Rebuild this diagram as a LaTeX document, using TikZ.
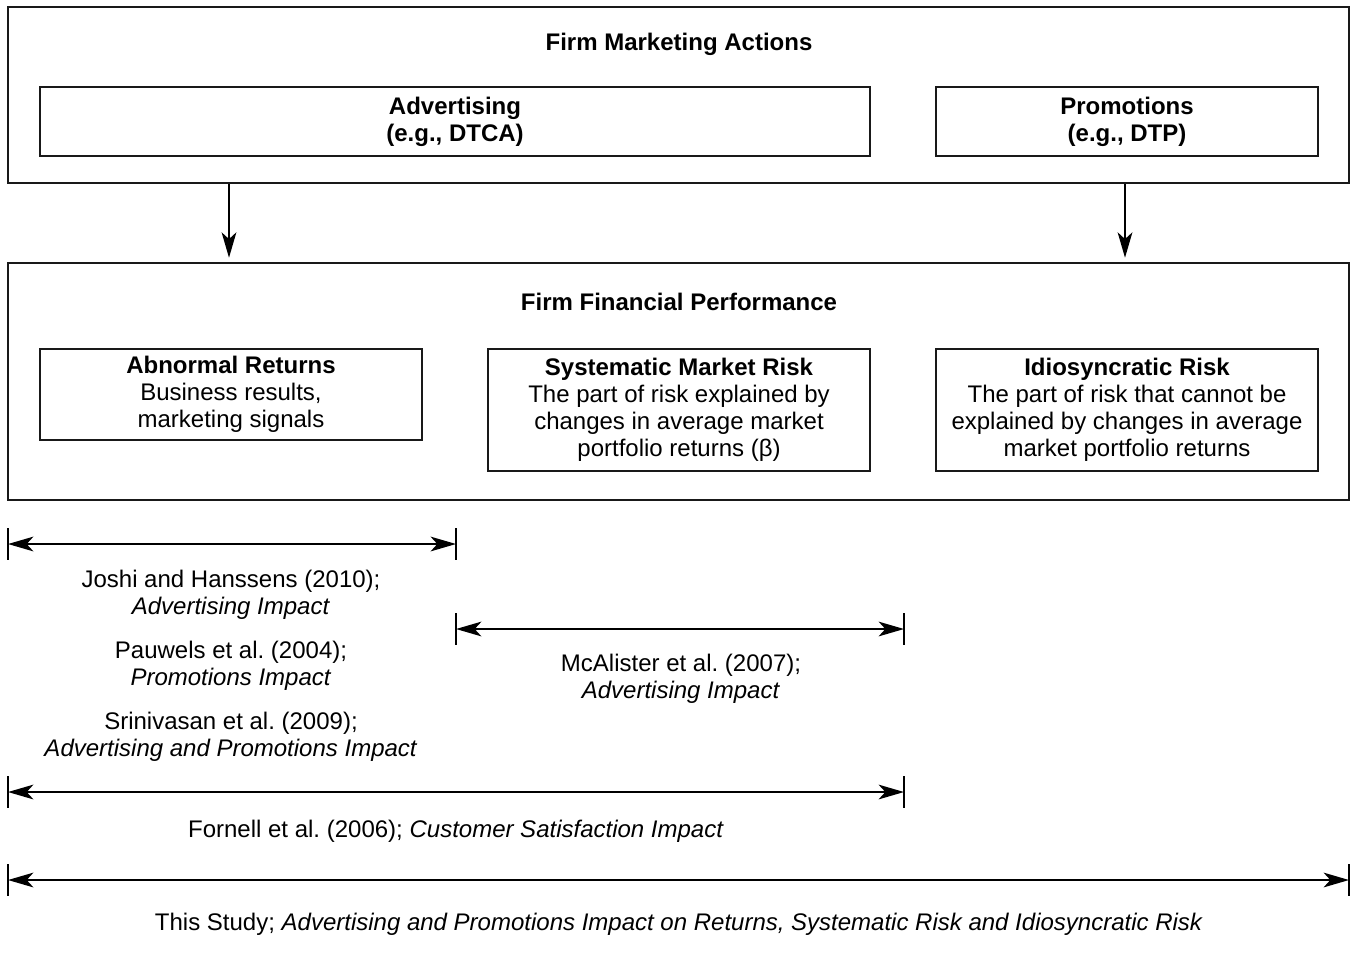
\documentclass[tikz,border=0pt]{standalone}
\usepackage{fontspec}
\setmainfont{Liberation Sans}
\usetikzlibrary{arrows.meta}
\frenchspacing
\tikzset{
  px/.style={x=0.75pt,y=-0.75pt},
  frame/.style={draw=black!90,line width=1.9pt,inner sep=0pt,align=center,
    font=\fontsize{18}{20.25}\selectfont},
  inbox/.style={draw=black!90,line width=1.7pt,inner sep=0pt,align=center,
    font=\fontsize{18}{20.25}\selectfont, minimum width=286.5pt},
  lbl/.style={align=center,inner sep=0pt,font=\fontsize{18}{20}\selectfont},
  ttl/.style={inner sep=0pt,font=\fontsize{18}{20}\selectfont\bfseries},
  arr/.style={line width=1.6pt,-{Stealth[length=19pt,width=11pt,inset=5pt]}},
  dbl/.style={line width=1.6pt,{Stealth[length=19pt,width=11pt,inset=5pt]}-{Stealth[length=19pt,width=11pt,inset=5pt]}},
  tick/.style={line width=1.6pt}
}
\begin{document}
\begin{tikzpicture}[px]
\useasboundingbox (0,0) rectangle (1351,965);
% top frame
\node[frame,minimum width=1005.75pt,minimum height=132pt] (top) at (678.5,95) {};
\node[ttl] (toptitle) at (679,44) {Firm Marketing Actions};
\node[inbox,minimum width=622.5pt,minimum height=51.75pt] (adv) at (455,121.5)
  {\textbf{Advertising}\\\textbf{(e.g., DTCA)}};
\node[inbox,minimum height=51.75pt] (promo) at (1127,121.5)
  {\textbf{Promotions}\\\textbf{(e.g., DTP)}};
% bottom frame
\node[frame,minimum width=1005.75pt,minimum height=177.75pt] (perf) at (678.5,381.5) {};
\node[ttl] (perftitle) at (679,302) {Firm Financial Performance};
\node[inbox,minimum height=68.25pt] (abn) at (231,394.5)
  {\textbf{Abnormal Returns}\\Business results,\\marketing signals};
\node[inbox,minimum height=91.5pt] (sys) at (679,410)
  {\textbf{Systematic Market Risk}\\The part of risk explained by\\changes in average market\\portfolio returns (β)};
\node[inbox,minimum height=91.5pt] (idio) at (1127,410)
  {\textbf{Idiosyncratic Risk}\\The part of risk that cannot be\\explained by changes in average\\market portfolio returns};
% arrows between frames
\coordinate (d1) at (229,0);
\coordinate (d2) at (1125,0);
\draw[arr,shorten >=3pt] (top.south -| d1) -- (perf.north -| d1);
\draw[arr,shorten >=3pt] (top.south -| d2) -- (perf.north -| d2);
% range bars
\coordinate (b1l) at (8,544);   \coordinate (b1r) at (456,544);
\coordinate (b2l) at (456,629); \coordinate (b2r) at (904,629);
\coordinate (b3l) at (8,792);   \coordinate (b3r) at (904,792);
\coordinate (b4l) at (8,880);   \coordinate (b4r) at (1349,880);
\foreach \c in {b1l,b1r,b2l,b2r,b3l,b3r,b4l,b4r}{
  \draw[tick] ([yshift=12pt]\c) -- ([yshift=-12pt]\c);
}
\draw[dbl] (b1l) -- (b1r);
\draw[dbl] (b2l) -- (b2r);
\draw[dbl] (b3l) -- (b3r);
\draw[dbl] (b4l) -- (b4r);
% labels
\node[lbl] (joshi) at (231,595) {Joshi and Hanssens (2010);\\\textit{Advertising Impact}};
\node[lbl] (pauwels) at (231,666) {Pauwels et al. (2004);\\\textit{Promotions Impact}};
\node[lbl] (srini) at (231,737) {Srinivasan et al. (2009);\\\textit{Advertising and Promotions Impact}};
\node[lbl] (mcal) at (681,679) {McAlister et al. (2007);\\\textit{Advertising Impact}};
\node[lbl] (forn) at (456,831) {Fornell et al. (2006); \textit{Customer Satisfaction Impact}};
\node[lbl] (study) at (679,924) {This Study; \textit{Advertising and Promotions Impact on Returns, Systematic Risk and Idiosyncratic Risk}};
\end{tikzpicture}
\end{document}
